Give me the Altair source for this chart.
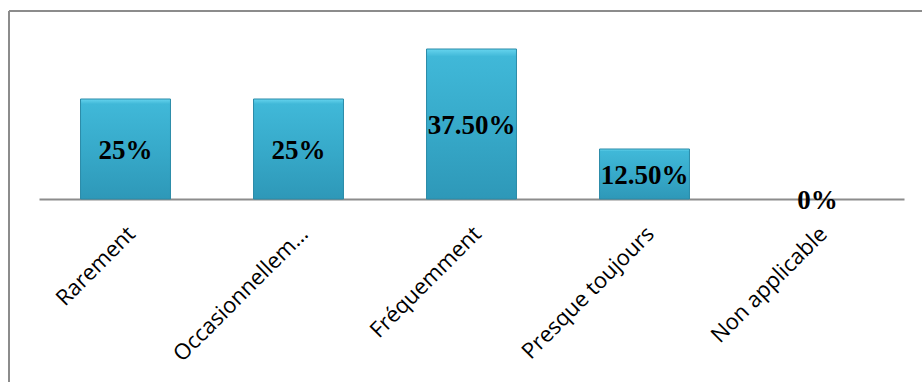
import altair as alt
import pandas as pd

categories = ["Rarement", "Occasionnellem…", "Fréquemment", "Presque toujours", "Non applicable"]
values = [25.0, 25.0, 37.5, 12.5, 0.0]
value_labels = ["25%", "25%", "37.50%", "12.50%", "0%"]

df = pd.DataFrame({"cat": categories, "val": values, "lab": value_labels})

W, H = 865, 160

x = alt.X("cat:N", sort=categories,
          scale=alt.Scale(paddingInner=0.48, paddingOuter=0.24),
          axis=alt.Axis(title=None, labelAngle=-45, labelAlign="right", labelBaseline="middle",
                        labelFont="Open Sans", labelFontSize=22, labelColor="#000000",
                        labelPadding=31, labelOffset=6, ticks=False, domainColor="#8c8c8c",
                        domainWidth=2, labelLimit=300))
y = alt.Y("val:Q", scale=alt.Scale(domain=[0, 40], nice=False), axis=None)

grad = alt.Gradient(
    gradient="linear", x1=0, y1=0, x2=0, y2=1,
    stops=[alt.GradientStop(color="#66D4EE", offset=0),
           alt.GradientStop(color="#40B8D8", offset=0.05),
           alt.GradientStop(color="#37AACA", offset=0.5),
           alt.GradientStop(color="#2E98B8", offset=1)])

bars = alt.Chart(df).transform_filter("datum.val > 0").mark_bar(
    color=grad, stroke="#2B8BA8", strokeWidth=1).encode(x=x, y=y)

mid = alt.Chart(df).transform_calculate(m="datum.val / 2").mark_text(
    font="Liberation Serif", fontWeight="bold", fontSize=27, color="#000000",
    baseline="middle", dy=2).encode(
    x=alt.X("cat:N", sort=categories), y=alt.Y("m:Q"), text="lab:N")

border_top = alt.Chart(df).mark_rule(color="#8c8c8c", strokeWidth=2).encode(
    x=alt.value(-30), x2=alt.value(W + 40), y=alt.value(-28))
border_left = alt.Chart(df).mark_rule(color="#8c8c8c", strokeWidth=2).encode(
    x=alt.value(-30), y=alt.value(-28), y2=alt.value(H + 200))

chart = alt.layer(border_top, border_left, bars, mid).properties(
    width=W, height=H,
    background="#ffffff",
    padding={"left": 39, "top": 39, "right": 18, "bottom": 183},
    autosize=alt.AutoSizeParams(type="none"),
).configure_view(strokeWidth=0, stroke=None)

chart.save("out.html", embed_options={"renderer": "svg", "actions": False})
